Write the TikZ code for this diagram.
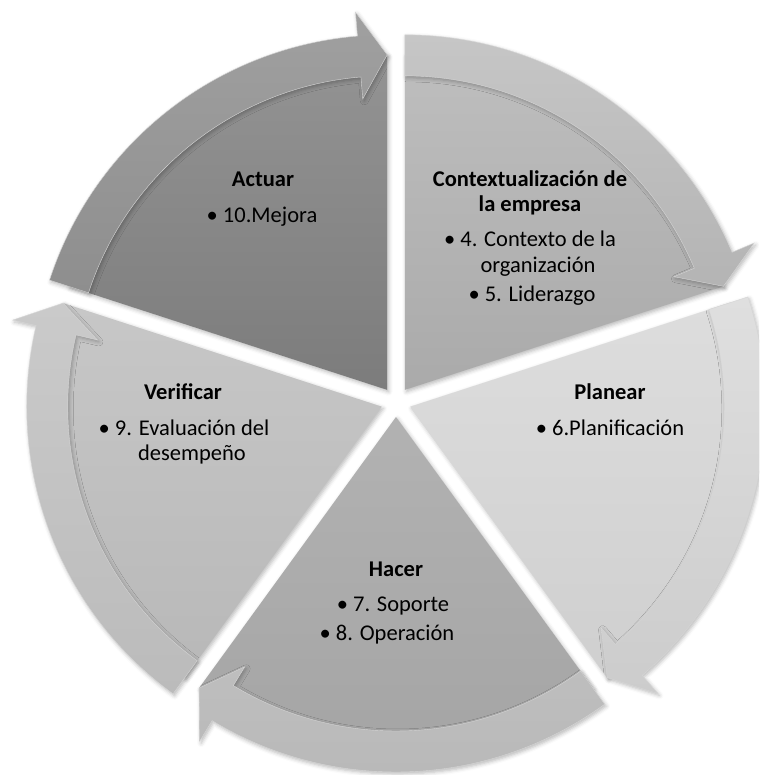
\documentclass[tikz,border=0pt]{standalone}
\usepackage{fontspec}
\setmainfont{Carlito}
\usetikzlibrary{calc,shadows.blur}

% fills of the five segments: body top/bottom, arrow band top/bottom
\definecolor{actA}{HTML}{939393}\definecolor{actB}{HTML}{7C7C7C}
\definecolor{actC}{HTML}{A0A0A0}\definecolor{actD}{HTML}{8E8E8E}
\definecolor{ctxA}{HTML}{BEBEBE}\definecolor{ctxB}{HTML}{AAAAAA}
\definecolor{ctxC}{HTML}{C6C6C6}\definecolor{ctxD}{HTML}{B4B4B4}
\definecolor{plaA}{HTML}{DDDDDD}\definecolor{plaB}{HTML}{CFCFCF}
\definecolor{plaC}{HTML}{DFDFDF}\definecolor{plaD}{HTML}{CCCCCC}
\definecolor{hacA}{HTML}{B2B2B2}\definecolor{hacB}{HTML}{A4A4A4}
\definecolor{hacC}{HTML}{BEBEBE}\definecolor{hacD}{HTML}{B8B8B8}
\definecolor{verA}{HTML}{C7C7C7}\definecolor{verB}{HTML}{B8B8B8}
\definecolor{verC}{HTML}{CACACA}\definecolor{verD}{HTML}{BBBBBB}

\tikzset{
  softshadow/.style={blur shadow={shadow xshift=1.5pt,shadow yshift=-2pt,
      shadow blur radius=4pt,shadow opacity=28}},
  wedgebody/.style={softshadow},
  bandarrow/.style={draw=black!16,line width=0.4pt,softshadow},
  ttl/.style={font=\bfseries\fontsize{22.5}{25}\selectfont,anchor=base,inner sep=0pt},
  itm/.style={font=\fontsize{22.5}{25}\selectfont,anchor=base,inner sep=0pt},
}

% #1 tail angle, #2 #3 body shading, #4 #5 band shading, #6 name
\newcommand\cyclesegment[6]{%
  \pgfmathsetmacro\segha{#1-72}%
  \pgfmathsetmacro\segba{#1-67.2}%
  \pgfmathsetmacro\segmd{#1-36}%
  \coordinate (P#6) at ($(C)+(\segmd:15)$);
  \path[wedgebody,top color=#2,bottom color=#3]
    (P#6) -- ($(P#6)+(#1:335)$) arc[start angle=#1,end angle=\segha,radius=335] -- cycle;
  \path[bandarrow,top color=#4,bottom color=#5]
    ($(P#6)+(#1:355)$) arc[start angle=#1,end angle=\segba,radius=355]
    -- ($(P#6)+(\segba:379)$) -- ($(P#6)+(\segha:335)$)
    -- ($(P#6)+(\segba:292)$) -- ($(P#6)+(\segba:314)$)
    arc[start angle=\segba,end angle=#1,radius=314] -- cycle;
}

\begin{document}
\begin{tikzpicture}[x=1pt,y=1pt]
\useasboundingbox (0,0) rectangle (759,775);
\clip (0,0) rectangle (759,775);
\coordinate (C) at (396,373);

\cyclesegment{162}{actA}{actB}{actC}{actD}{act}
\cyclesegment{90}{ctxA}{ctxB}{ctxC}{ctxD}{ctx}
\cyclesegment{18}{plaA}{plaB}{plaC}{plaD}{pla}
\cyclesegment{-54}{hacA}{hacB}{hacC}{hacD}{hac}
\cyclesegment{-126}{verA}{verB}{verC}{verD}{ver}

% Actuar
\node[ttl] (actT) at (263,588.5) {Actuar};
\node[itm] (actI) at (262,552.5) {• 10.Mejora};
% Contextualizacion
\node[ttl] (ctxT1) at (530,588.5) {Contextualización de};
\node[ttl] (ctxT2) at (530,563.5) {la empresa};
\node[itm] (ctxI1) at (530,528) {• 4. Contexto de la};
\node[itm] (ctxI2) at (538,502.5) {organización};
\node[itm] (ctxI3) at (532,473.5) {• 5. Liderazgo};
% Planear
\node[ttl] (plaT) at (610,375.5) {Planear};
\node[itm] (plaI) at (610,339.5) {• 6.Planificación};
% Hacer
\node[ttl] (hacT) at (396,198.5) {Hacer};
\node[itm] (hacI1) at (393,163.5) {• 7. Soporte};
\node[itm] (hacI2) at (387,134.5) {• 8. Operación};
% Verificar
\node[ttl] (verT) at (183,375.5) {Verificar};
\node[itm] (verI1) at (184,339.5) {• 9. Evaluación del};
\node[itm] (verI2) at (192,314.5) {desempeño};
\end{tikzpicture}
\end{document}
